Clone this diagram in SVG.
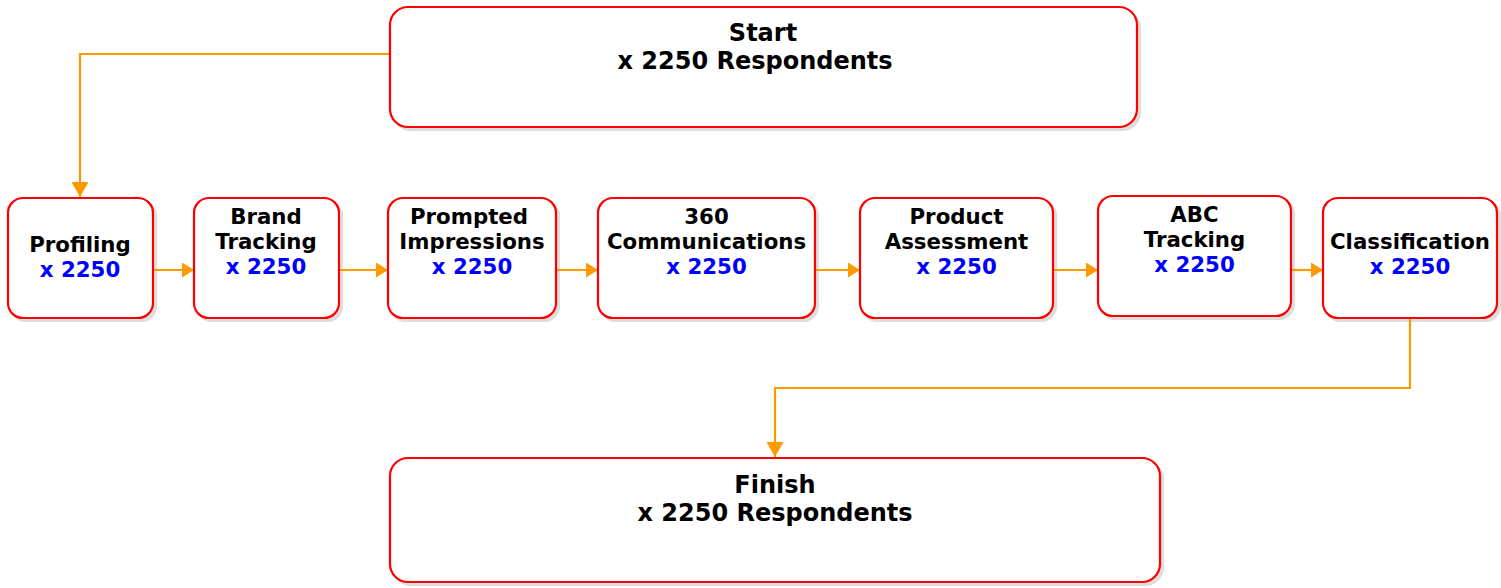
<svg xmlns="http://www.w3.org/2000/svg" width="1501" height="588" viewBox="0 0 1501 588">
  <style>
    .box { fill: #ffffff; stroke: #ff0000; stroke-width: 2.2; }
    .shadow { fill: #dedede; stroke: #dedede; stroke-width: 2.2; }
    .lbl { font-family: "DejaVu Sans", "Liberation Sans", sans-serif; font-weight: bold; font-size: 21.3px; text-anchor: middle; fill: #000000; }
    .big { font-size: 24px; }
    .cnt { fill: #0000ff; }
    .link { fill: none; stroke: #ff9900; stroke-width: 2.2; }
  </style>
  <defs>
    <marker id="arrow" markerUnits="userSpaceOnUse" markerWidth="14" markerHeight="16" refX="12" refY="7.5" orient="auto">
      <path d="M0,0 L12,7.5 L0,15 Z" fill="#ff9900"/>
    </marker>
    <marker id="arrowV" markerUnits="userSpaceOnUse" markerWidth="16" markerHeight="18" refX="15" refY="8.5" orient="auto">
      <path d="M0,0 L15,8.5 L0,17 Z" fill="#ff9900"/>
    </marker>
  </defs>

  <!-- box shadows sit underneath the connectors -->
  <g id="shadows">
    <rect class="shadow" x="393" y="10" width="747" height="120" rx="18"/>
    <rect class="shadow" x="11" y="201" width="145" height="120" rx="15"/>
    <rect class="shadow" x="197" y="201" width="145" height="120" rx="15"/>
    <rect class="shadow" x="391" y="201" width="168" height="120" rx="15"/>
    <rect class="shadow" x="601" y="201" width="217" height="120" rx="15"/>
    <rect class="shadow" x="863" y="201" width="193" height="120" rx="15"/>
    <rect class="shadow" x="1101" y="199" width="193" height="120" rx="15"/>
    <rect class="shadow" x="1326" y="201" width="174" height="120" rx="15"/>
    <rect class="shadow" x="393" y="461" width="770" height="124" rx="18"/>
  </g>

  <!-- flow connectors -->
  <g id="connectors">
    <path class="link" d="M390,54 H80 V197" marker-end="url(#arrowV)"/>
    <path class="link" d="M153,270 H194" marker-end="url(#arrow)"/>
    <path class="link" d="M339,270 H388" marker-end="url(#arrow)"/>
    <path class="link" d="M556,270 H598" marker-end="url(#arrow)"/>
    <path class="link" d="M815,270 H860" marker-end="url(#arrow)"/>
    <path class="link" d="M1053,270 H1098" marker-end="url(#arrow)"/>
    <path class="link" d="M1291,270 H1323" marker-end="url(#arrow)"/>
    <path class="link" d="M1410,319 V388 H775 V457" marker-end="url(#arrowV)"/>
  </g>

  <g id="start">
    <rect class="box" x="390" y="7" width="747" height="120" rx="18"/>
    <text class="lbl big" x="763" y="41">Start</text>
    <text class="lbl big" x="755" y="69">x 2250 Respondents</text>
  </g>

  <g id="profiling">
    <rect class="box" x="8" y="198" width="145" height="120" rx="15"/>
    <text class="lbl" x="80" y="252">Profiling</text>
    <text class="lbl cnt" x="80" y="277">x 2250</text>
  </g>

  <g id="brand-tracking">
    <rect class="box" x="194" y="198" width="145" height="120" rx="15"/>
    <text class="lbl" x="266" y="224">Brand</text>
    <text class="lbl" x="266" y="249">Tracking</text>
    <text class="lbl cnt" x="266" y="274">x 2250</text>
  </g>

  <g id="prompted-impressions">
    <rect class="box" x="388" y="198" width="168" height="120" rx="15"/>
    <text class="lbl" x="469" y="224">Prompted</text>
    <text class="lbl" x="472" y="249">Impressions</text>
    <text class="lbl cnt" x="472" y="274">x 2250</text>
  </g>

  <g id="communications-360">
    <rect class="box" x="598" y="198" width="217" height="120" rx="15"/>
    <text class="lbl" x="706.5" y="224">360</text>
    <text class="lbl" x="706.5" y="249">Communications</text>
    <text class="lbl cnt" x="706.5" y="274">x 2250</text>
  </g>

  <g id="product-assessment">
    <rect class="box" x="860" y="198" width="193" height="120" rx="15"/>
    <text class="lbl" x="956.5" y="224">Product</text>
    <text class="lbl" x="956.5" y="249">Assessment</text>
    <text class="lbl cnt" x="956.5" y="274">x 2250</text>
  </g>

  <g id="abc-tracking">
    <rect class="box" x="1098" y="196" width="193" height="120" rx="15"/>
    <text class="lbl" x="1194.5" y="222">ABC</text>
    <text class="lbl" x="1194.5" y="247">Tracking</text>
    <text class="lbl cnt" x="1194.5" y="272">x 2250</text>
  </g>

  <g id="classification">
    <rect class="box" x="1323" y="198" width="174" height="120" rx="15"/>
    <text class="lbl" x="1410" y="249">Classification</text>
    <text class="lbl cnt" x="1410" y="274">x 2250</text>
  </g>

  <g id="finish">
    <rect class="box" x="390" y="458" width="770" height="124" rx="18"/>
    <text class="lbl big" x="775" y="493">Finish</text>
    <text class="lbl big" x="775" y="521">x 2250 Respondents</text>
  </g>
</svg>
